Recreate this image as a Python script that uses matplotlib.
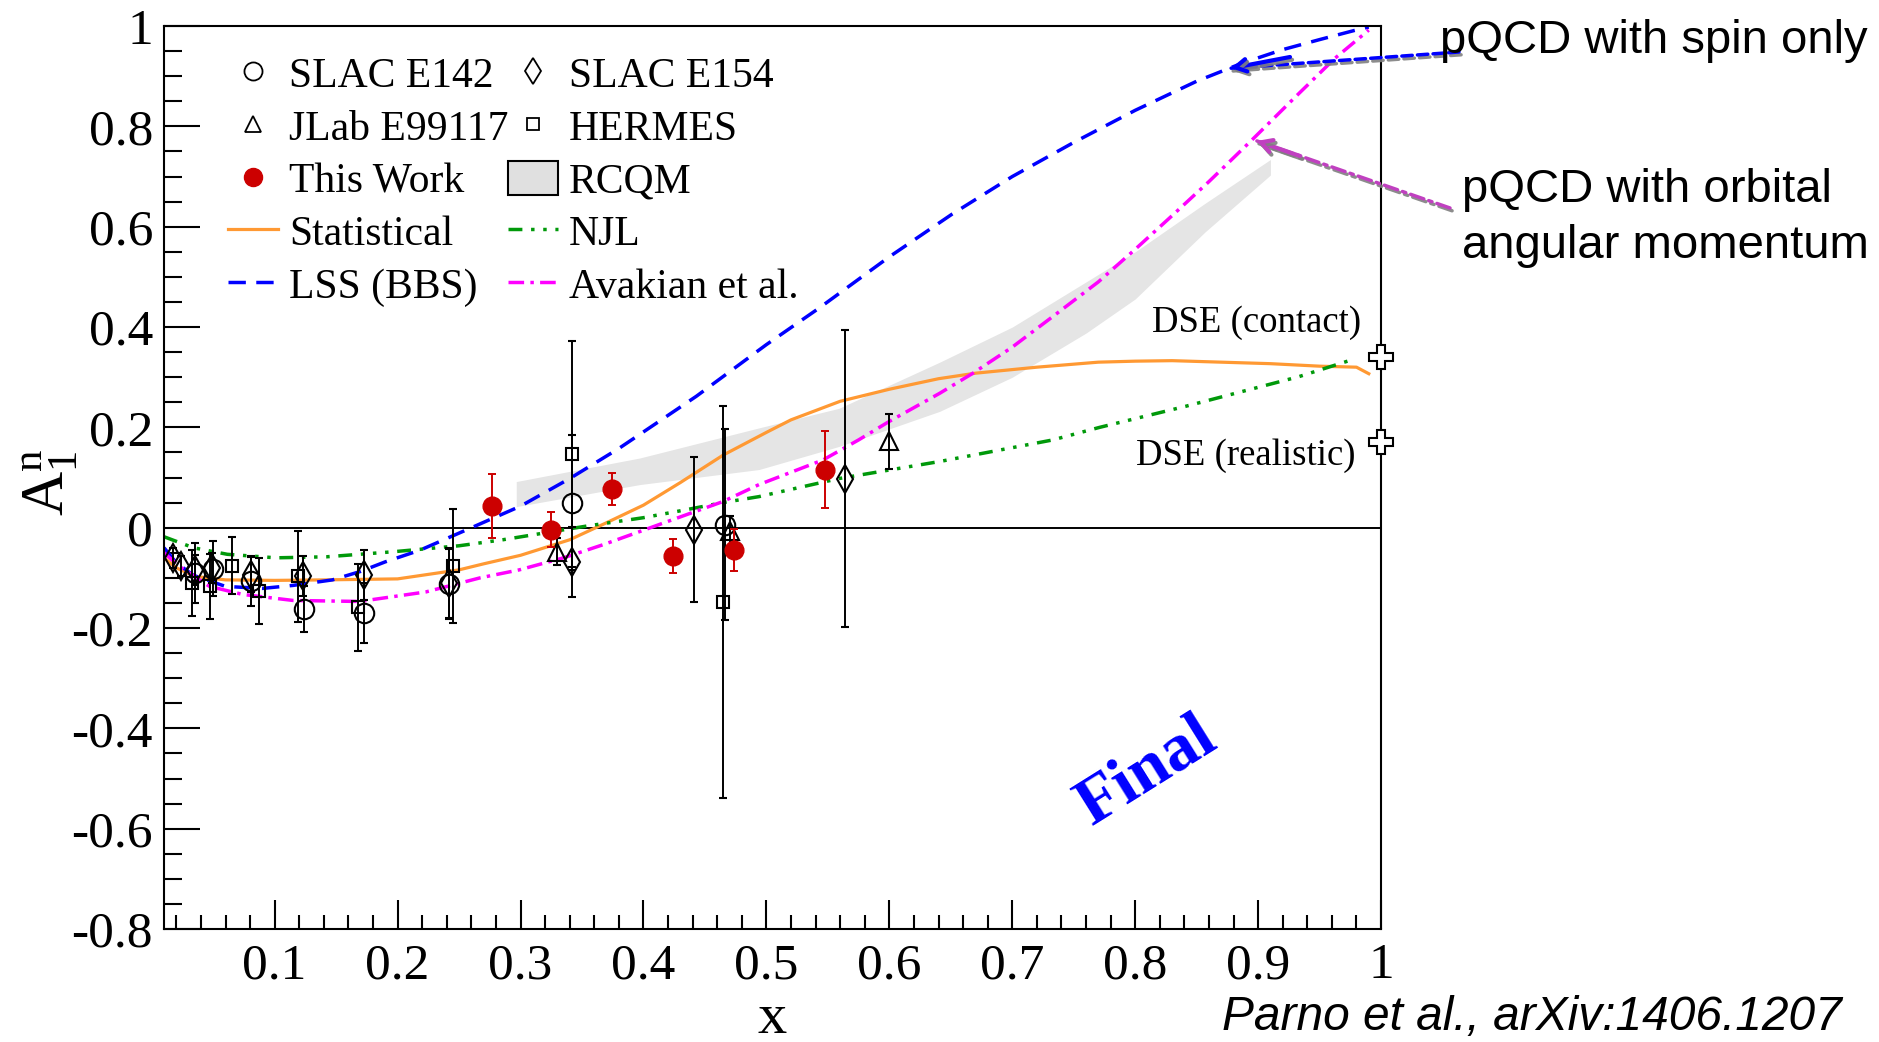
import numpy as np
import matplotlib.pyplot as plt
from matplotlib.lines import Line2D
from matplotlib.patches import Patch
from matplotlib.ticker import MultipleLocator
import matplotlib.patheffects as pe

plt.rcParams['font.family'] = 'Liberation Serif'
plt.rcParams['mathtext.fontset'] = 'custom'
plt.rcParams['mathtext.rm'] = 'Liberation Serif'
plt.rcParams['mathtext.it'] = 'Liberation Serif:italic'

# ---- data ----
e142_x = [0.035, 0.050, 0.081, 0.124, 0.173, 0.242, 0.342, 0.466]
e142_y = [-0.090, -0.082, -0.107, -0.162, -0.170, -0.112, 0.050, 0.006]
e142_err = [0.060, 0.055, 0.050, 0.045, 0.060, 0.070, 0.135, 0.190]

e154_x = [0.017, 0.024, 0.035, 0.049, 0.081, 0.123, 0.173, 0.242, 0.342, 0.441, 0.564]
e154_y = [-0.060, -0.076, -0.085, -0.080, -0.094, -0.097, -0.094, -0.110, -0.068, -0.004, 0.098]
e154_err = [0.020, 0.020, 0.030, 0.030, 0.035, 0.040, 0.050, 0.070, 0.070, 0.145, 0.296]

hermes_x = [0.033, 0.047, 0.065, 0.087, 0.119, 0.168, 0.245, 0.342, 0.465]
hermes_y = [-0.110, -0.117, -0.076, -0.126, -0.097, -0.159, -0.076, 0.147, -0.148]
hermes_err = [0.065, 0.065, 0.057, 0.065, 0.090, 0.087, 0.114, 0.225, 0.390]

jlab_x = [0.33, 0.47, 0.60]
jlab_y = [-0.048, -0.006, 0.172]
jlab_err = [0.027, 0.030, 0.055]

work_x = [0.277, 0.325, 0.374, 0.424, 0.474, 0.548]
work_y = [0.044, -0.004, 0.077, -0.057, -0.045, 0.116]
work_err = [0.064, 0.035, 0.032, 0.034, 0.042, 0.076]

stat_x = [0.01, 0.02, 0.035, 0.06, 0.10, 0.14, 0.20, 0.25, 0.27, 0.30, 0.34, 0.37, 0.40,
          0.43, 0.465, 0.50, 0.52, 0.56, 0.60, 0.64, 0.67, 0.72, 0.77, 0.80, 0.83, 0.87,
          0.91, 0.95, 0.98, 0.99]
stat_y = [-0.060, -0.080, -0.097, -0.104, -0.105, -0.104, -0.102, -0.084, -0.072, -0.055,
          -0.024, 0.010, 0.045, 0.090, 0.145, 0.190, 0.215, 0.252, 0.276, 0.297, 0.308,
          0.320, 0.330, 0.332, 0.333, 0.330, 0.327, 0.322, 0.320, 0.307]

lss_x = [0.01, 0.02, 0.034, 0.06, 0.09, 0.115, 0.147, 0.17, 0.19, 0.218, 0.26, 0.30, 0.34,
         0.38, 0.443, 0.50, 0.543, 0.60, 0.651, 0.70, 0.75, 0.80, 0.85, 0.887, 0.92, 0.95,
         0.978, 0.99]
lss_y = [-0.040, -0.070, -0.095, -0.117, -0.121, -0.115, -0.104, -0.087, -0.068, -0.045,
         0.000, 0.043, 0.098, 0.158, 0.262, 0.365, 0.438, 0.540, 0.625, 0.700, 0.768,
         0.832, 0.890, 0.926, 0.953, 0.973, 0.991, 0.998]

njl_x = [0.01, 0.034, 0.0615, 0.101, 0.142, 0.196, 0.25, 0.2856, 0.353, 0.40, 0.435,
         0.4645, 0.494, 0.559, 0.641, 0.733, 0.771, 0.841, 0.933, 0.974]
njl_y = [-0.018, -0.040, -0.053, -0.060, -0.058, -0.048, -0.036, -0.024, 0.003, 0.020,
         0.036, 0.050, 0.062, 0.098, 0.132, 0.175, 0.200, 0.242, 0.301, 0.333]

avak_x = [0.01, 0.023, 0.047, 0.074, 0.115, 0.169, 0.223, 0.267, 0.299, 0.335, 0.367,
          0.40, 0.435, 0.4645, 0.494, 0.546, 0.575, 0.60, 0.641, 0.668, 0.70, 0.733,
          0.77, 0.80, 0.83, 0.86, 0.895, 0.93, 0.9626, 0.99]
avak_y = [-0.050, -0.078, -0.117, -0.133, -0.145, -0.147, -0.128, -0.100, -0.084, -0.060,
          -0.034, -0.005, 0.026, 0.052, 0.086, 0.135, 0.175, 0.212, 0.268, 0.308, 0.360,
          0.421, 0.490, 0.555, 0.622, 0.690, 0.773, 0.858, 0.936, 0.992]

rcqm_x = [0.2965, 0.397, 0.494, 0.559, 0.641, 0.70, 0.76, 0.80, 0.857, 0.91]
rcqm_hi = [0.092, 0.139, 0.199, 0.238, 0.330, 0.400, 0.490, 0.550, 0.647, 0.734]
rcqm_lo = [0.042, 0.086, 0.116, 0.162, 0.232, 0.300, 0.388, 0.456, 0.590, 0.703]

dse_x = [1.0, 1.0]
dse_y = [0.34, 0.17]
dse_labels = ['DSE (contact)', 'DSE (realistic)']

x_ticks = [0.1, 0.2, 0.3, 0.4, 0.5, 0.6, 0.7, 0.8, 0.9, 1.0]
x_tick_labels = ['0.1', '0.2', '0.3', '0.4', '0.5', '0.6', '0.7', '0.8', '0.9', '1']
y_ticks = [-0.8, -0.6, -0.4, -0.2, 0.0, 0.2, 0.4, 0.6, 0.8, 1.0]
y_tick_labels = ['-0.8', '-0.6', '-0.4', '-0.2', '0', '0.2', '0.4', '0.6', '0.8', '1']

ORANGE = '#ff9933'
GREEN = '#00990a'
RED = '#cc0000'

fig = plt.figure(figsize=(18.79, 10.42), dpi=100)
ax = fig.add_axes([0.0873, 0.1084, 0.6477, 0.8666])
ax.set_xlim(0.01, 1.0)
ax.set_ylim(-0.8, 1.0)

# model band and curves
ax.fill_between(rcqm_x, rcqm_lo, rcqm_hi, color='#e5e5e5', lw=0, zorder=1)
ax.axhline(0, color='black', lw=1.4, zorder=1.5)
ax.plot(stat_x, stat_y, color=ORANGE, lw=2.3, zorder=2)
ax.plot(lss_x, lss_y, color='blue', lw=2.5, dashes=(5, 3), zorder=2)
ax.plot(njl_x, njl_y, color=GREEN, lw=2.5, dashes=(4, 2.5, 1, 2.5, 1, 2.5, 1, 2.5), zorder=2)
ax.plot(avak_x, avak_y, color='magenta', lw=2.5, dashes=(4.5, 1.8, 1, 1.8), zorder=2)

# data sets
common = dict(ecolor='black', elinewidth=1.4, capsize=3, capthick=1.4, mfc='none',
              mec='black', mew=1.5, ls='none', zorder=3)
ax.errorbar(hermes_x, hermes_y, yerr=hermes_err, fmt='s', ms=9, **common)
ax.errorbar(e154_x, e154_y, yerr=e154_err, fmt='d', ms=14, **common)
ax.errorbar(e142_x, e142_y, yerr=e142_err, fmt='o', ms=14, **common)
ax.errorbar(jlab_x, jlab_y, yerr=jlab_err, fmt='^', ms=13, **common)
ax.errorbar(work_x, work_y, yerr=work_err, fmt='o', ms=13.5, color=RED, ecolor=RED,
            elinewidth=1.4, capsize=3, capthick=1.4, ls='none', zorder=4)

ax.plot(dse_x, dse_y, 'P', ms=17, mfc='white', mec='black', mew=1.5, ls='none',
        clip_on=False, zorder=6)
ax.text(0.984, 0.408, dse_labels[0], fontsize=26.5, ha='right', va='center')
ax.text(0.979, 0.143, dse_labels[1], fontsize=26.5, ha='right', va='center')

ax.text(0.8076, 0.1745, 'Final', transform=ax.transAxes, fontsize=49, fontweight='bold',
        color='blue', rotation=32, ha='center', va='center')

# axes styling
ax.set_xticks(x_ticks)
ax.set_xticklabels(x_tick_labels)
ax.set_yticks(y_ticks)
ax.set_yticklabels(y_tick_labels)
ax.xaxis.set_minor_locator(MultipleLocator(0.02))
ax.yaxis.set_minor_locator(MultipleLocator(0.05))
ax.tick_params(which='both', direction='in', top=False, right=False, width=1.5,
               labelsize=37)
ax.tick_params(axis='x', which='major', length=21, pad=10)
ax.tick_params(axis='x', which='minor', length=10)
ax.tick_params(axis='y', which='major', length=26, pad=8)
ax.tick_params(axis='y', which='minor', length=13)
for s in ax.spines.values():
    s.set_linewidth(1.5)

ax.set_xlabel('x', fontsize=42)
ax.xaxis.set_label_coords(0.5, -0.071)
ax.set_ylabel(r'$\mathrm{A}_{1}^{\mathrm{n}}$', fontsize=44)
ax.yaxis.set_label_coords(-0.069, 0.495)

# legend
handles = [
    Line2D([], [], marker='o', ms=13, mfc='none', mec='black', mew=1.3, ls='none'),
    Line2D([], [], marker='^', ms=12, mfc='none', mec='black', mew=1.3, ls='none'),
    Line2D([], [], marker='o', ms=13, color=RED, ls='none'),
    Line2D([], [], color=ORANGE, lw=2.3),
    Line2D([], [], color='blue', lw=2.5, dashes=(5, 3)),
    Line2D([], [], marker='d', ms=13, mfc='none', mec='black', mew=1.3, ls='none'),
    Line2D([], [], marker='s', ms=8, mfc='none', mec='black', mew=1.3, ls='none'),
    Patch(facecolor='#e0e0e0', edgecolor='black', lw=1.5),
    Line2D([], [], color=GREEN, lw=2.5, dashes=(4, 2.5, 1, 2.5, 1, 2.5, 1, 2.5)),
    Line2D([], [], color='magenta', lw=2.5, dashes=(4.5, 1.8, 1, 1.8)),
]
labels = ['SLAC E142', 'JLab E99117', 'This Work', 'Statistical', 'LSS (BBS)',
          'SLAC E154', 'HERMES', 'RCQM', 'NJL', 'Avakian et al.']
ax.legend(handles, labels, ncol=2, loc='upper left', bbox_to_anchor=(0.0526, 0.9677),
          frameon=False, fontsize=30, borderpad=0, borderaxespad=0, handlelength=1.2,
          handleheight=0.9, handletextpad=0.26, columnspacing=0.0, labelspacing=0.29)

# pQCD annotations with shadowed arrows
shadow = [pe.SimpleLineShadow(offset=(1.5, -2), shadow_color='grey', alpha=0.9), pe.Normal()]
ax.annotate('', xy=(0.878, 0.916), xytext=(1459, 990), textcoords='figure pixels',
            arrowprops=dict(arrowstyle='-', color='blue', lw=2.5, ls=(0, (3, 1.5)),
                            shrinkA=0, shrinkB=0, path_effects=shadow),
            annotation_clip=False)
ax.annotate('', xy=(0.878, 0.916), xytext=(1290, 985), textcoords='figure pixels',
            arrowprops=dict(arrowstyle='->,head_length=0.8,head_width=0.45', color='blue',
                            lw=3, shrinkA=0, shrinkB=0, path_effects=shadow),
            annotation_clip=False)
ax.annotate('', xy=(0.899, 0.771), xytext=(1450, 834), textcoords='figure pixels',
            arrowprops=dict(arrowstyle='-', color='#c040c0', lw=2.5,
                            ls=(0, (4, 1.5, 1, 1.5)), shrinkA=0, shrinkB=0,
                            path_effects=shadow),
            annotation_clip=False)
ax.annotate('', xy=(0.899, 0.771), xytext=(1300, 886), textcoords='figure pixels',
            arrowprops=dict(arrowstyle='->,head_length=0.8,head_width=0.45', color='#c040c0',
                            lw=3, shrinkA=0, shrinkB=0, path_effects=shadow),
            annotation_clip=False)

fig.text(0.7664, 0.9488, 'pQCD with spin only', fontsize=34, family='Liberation Sans',
         ha='left', va='baseline')
fig.text(0.7781, 0.8064, 'pQCD with orbital', fontsize=34, family='Liberation Sans',
         ha='left', va='baseline')
fig.text(0.7781, 0.7524, 'angular momentum', fontsize=34, family='Liberation Sans',
         ha='left', va='baseline')
fig.text(0.98, 0.0115, 'Parno et al., arXiv:1406.1207', fontsize=34.5, family='Liberation Sans',
         style='italic', ha='right', va='baseline')

fig.savefig('out.png', dpi=100)
